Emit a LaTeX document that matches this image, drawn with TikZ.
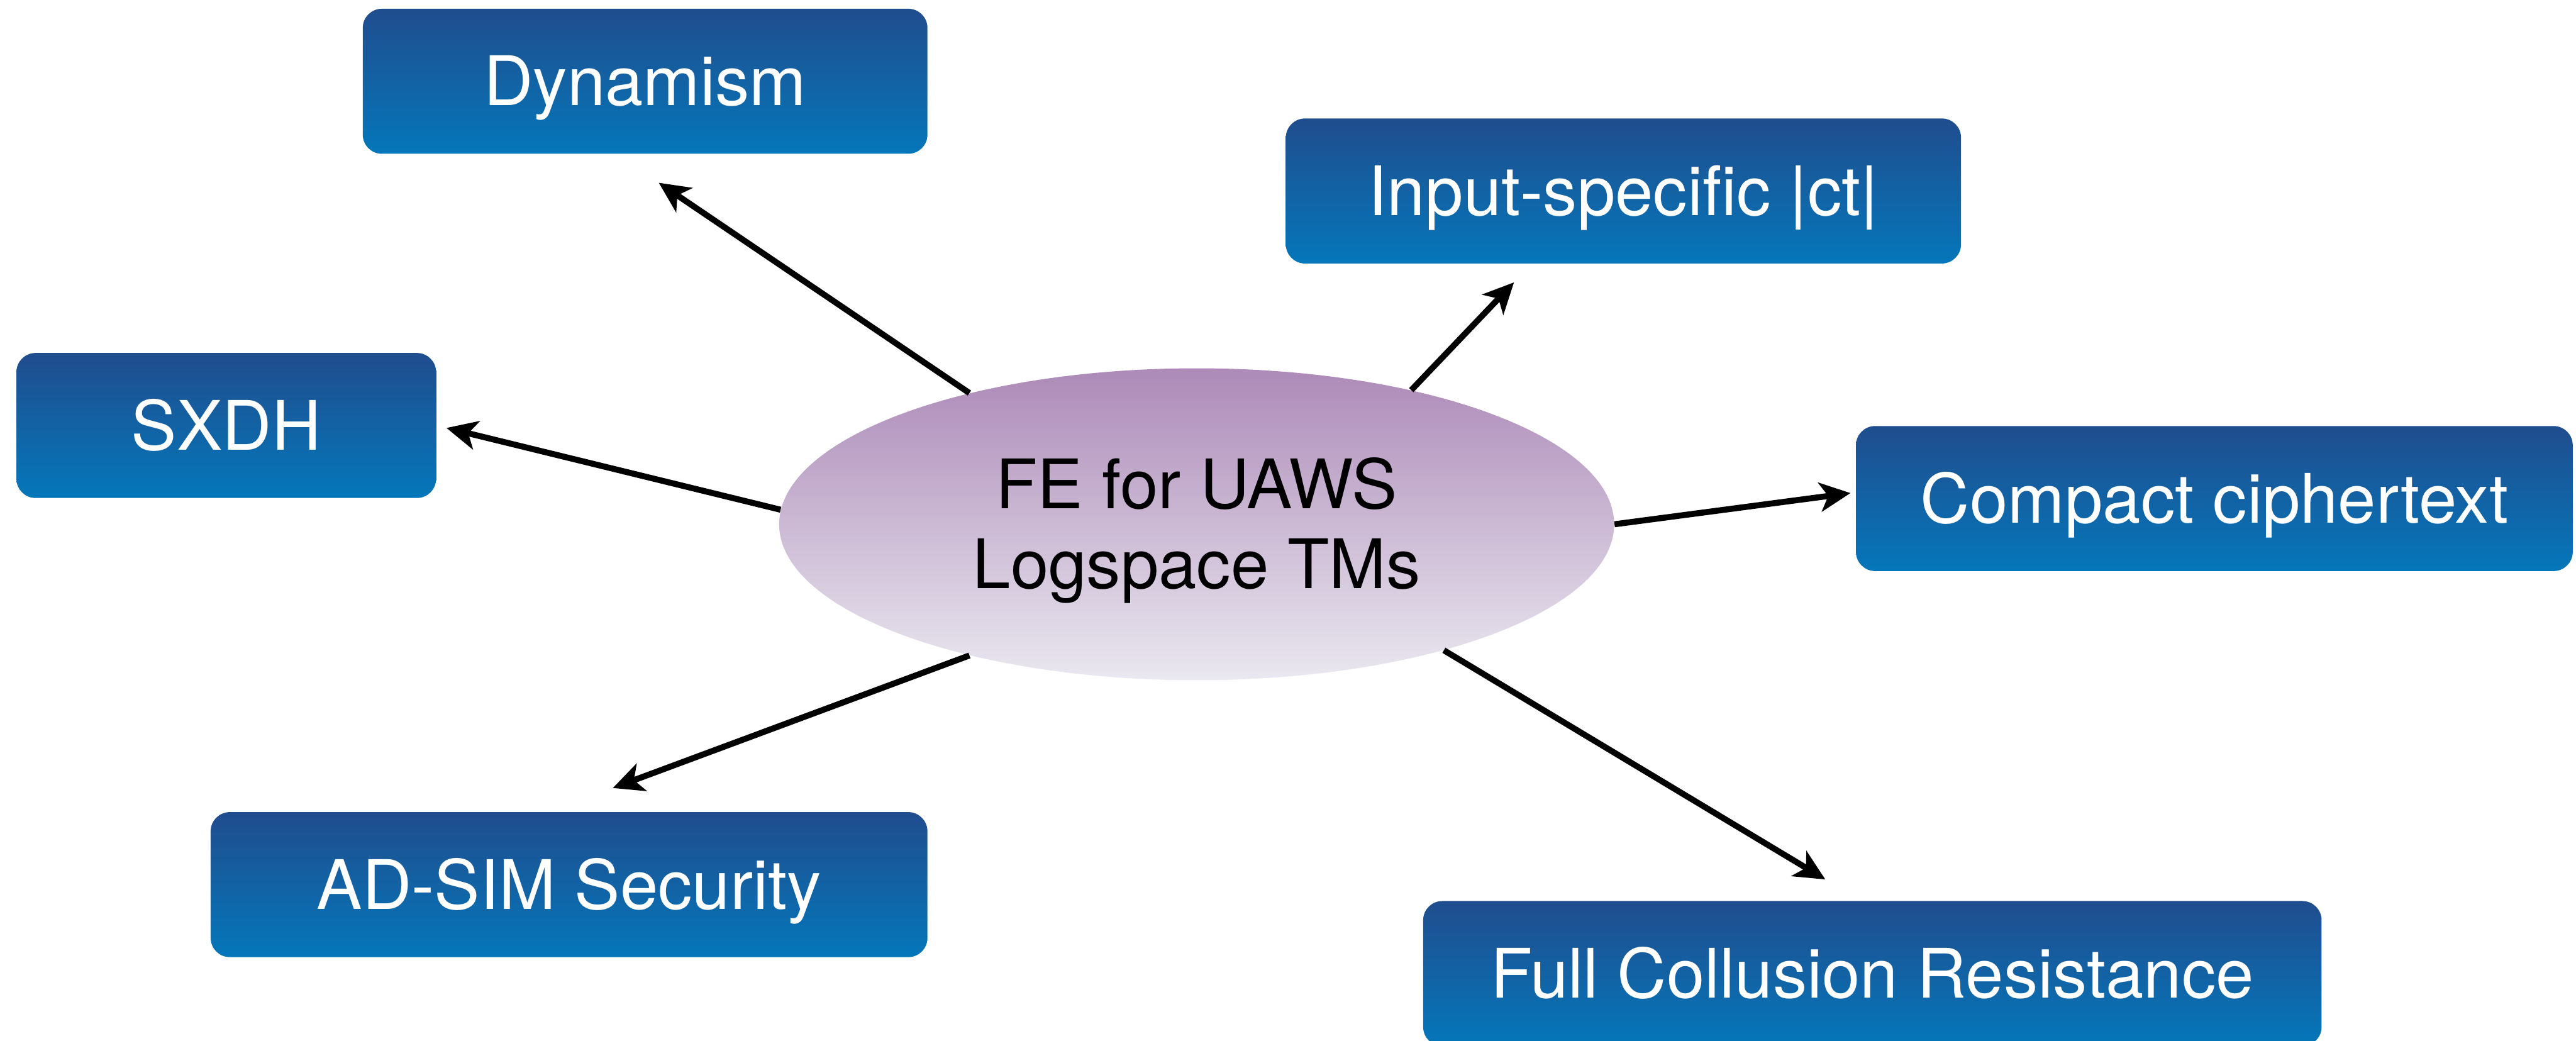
\documentclass[tikz,border=0pt]{standalone}
\usepackage{fontspec}
\setmainfont{TeX Gyre Heros}
\usetikzlibrary{arrows.meta,shapes.geometric}
\definecolor{boxtop}{RGB}{32,77,142}
\definecolor{boxbot}{RGB}{4,119,186}
\definecolor{elltop}{RGB}{173,138,184}
\definecolor{ellbot}{RGB}{234,232,240}
\begin{document}
\begin{tikzpicture}[
  feature/.style={rectangle, rounded corners=0.35cm, top color=boxtop, bottom color=boxbot,
    text=white, font=\fontsize{35.5}{42}\selectfont, text height=0.89cm, text depth=0pt,
    inner sep=0pt, minimum height=2.65cm},
  core/.style={ellipse, top color=elltop, bottom color=ellbot, draw=none,
    minimum width=15.26cm, minimum height=5.70cm, inner sep=0pt, align=center,
    font=\fontsize{35.5}{41.5}\selectfont, text height=2.35cm, text depth=0pt},
  link/.style={line width=0.11cm, -{Stealth[length=0.56cm,width=0.53cm,inset=0.15cm]}}
]
\useasboundingbox (0,0) rectangle (47.08,-19.02);

% central concept
\node[core] (fe) at (21.87,-9.58) {FE for UAWS\\Logspace TMs};

% properties around it
\node[feature, minimum width=10.32cm] (dyn)  at (11.79,-1.485) {Dynamism};
\node[feature, minimum width=12.34cm] (inp)  at (29.67,-3.49)  {Input-specific |ct|};
\node[feature, minimum width=7.67cm]  (sxdh) at (4.135,-7.775) {SXDH};
\node[feature, minimum width=13.10cm] (cmp)  at (40.47,-9.11)  {Compact ciphertext};
\node[feature, minimum width=13.10cm] (ads)  at (10.40,-16.165) {AD-SIM Security};
\node[feature, minimum width=16.42cm] (full) at (34.22,-17.79) {Full Collusion Resistance};

% arrow tips stop short of the boxes
\coordinate (tdyn)  at (12.04,-3.34);
\coordinate (tinp)  at (27.67,-5.16);
\coordinate (tsxdh) at (8.16,-7.82);
\coordinate (tcmp)  at (33.82,-9.01);
\coordinate (tads)  at (11.20,-14.40);
\coordinate (tfull) at (33.36,-16.07);

\draw[link] (fe.150.1) -- (tdyn);
\draw[link] (fe.32.9)  -- (tinp);
\draw[link] (fe.178.2) -- (tsxdh);
\draw[link] (fe.-0.9)  -- (tcmp);
\draw[link] (fe.210.4) -- (tads);
\draw[link] (fe.-27.2) -- (tfull);
\end{tikzpicture}
\end{document}
